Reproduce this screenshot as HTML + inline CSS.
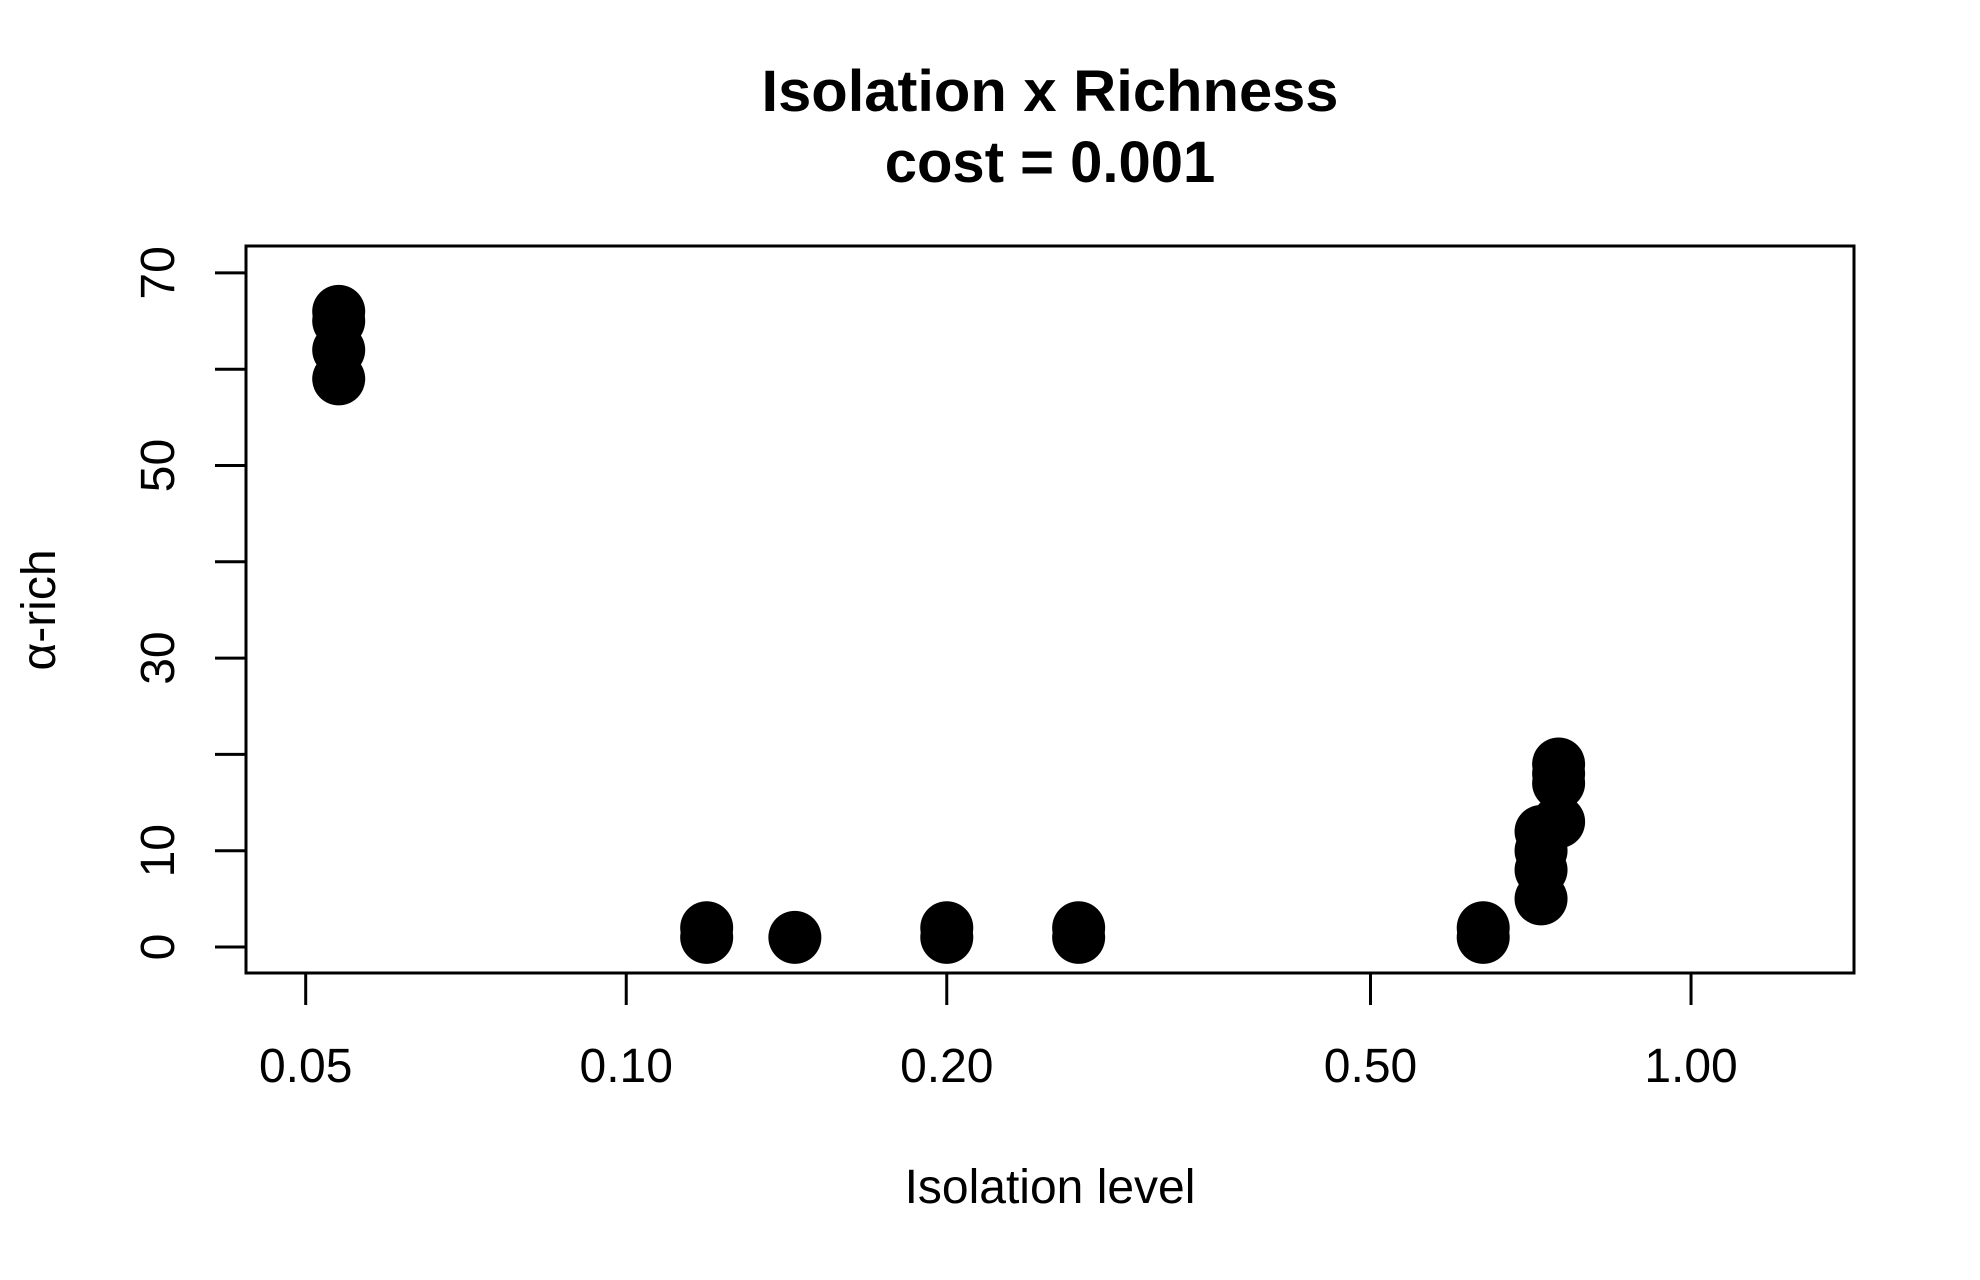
<!DOCTYPE html>
<html><head><meta charset="utf-8"><style>
html,body{margin:0;padding:0;background:#fff;}
svg{display:block;font-family:"Liberation Sans",Arial,sans-serif;}
</style></head><body>
<svg id="chart" width="1980" height="1280" viewBox="0 0 1980 1280" xmlns="http://www.w3.org/2000/svg">
<rect width="1980" height="1280" fill="#fff"/>
<text x="1050" y="111" text-anchor="middle" font-weight="bold" font-size="58" textLength="577" lengthAdjust="spacingAndGlyphs">Isolation x Richness</text>
<text x="1050" y="182" text-anchor="middle" font-weight="bold" font-size="58">cost = 0.001</text>
<rect x="246" y="246" width="1608" height="727" fill="none" stroke="#000" stroke-width="3"/>
<g id="xaxis"></g>
<g id="yaxis"></g>
<g id="points"></g>
<text x="1050" y="1203" text-anchor="middle" font-size="48">Isolation level</text>
<text transform="translate(55,610) rotate(-90)" text-anchor="middle" font-size="48">α-rich</text>
</svg>
<script>
const xTicks = [0.05, 0.10, 0.20, 0.50, 1.00];
const xTickLabels = ["0.05", "0.10", "0.20", "0.50", "1.00"];
const yTicks = [0, 10, 20, 30, 40, 50, 60, 70];
const yTickLabels = ["0", "10", "", "30", "", "50", "", "70"];
const isolation = [0.0537,0.0537,0.0537,0.0537, 0.119,0.119, 0.144, 0.20,0.20, 0.266,0.266, 0.638,0.638, 0.723,0.723,0.723,0.723, 0.751,0.751,0.751,0.751];
const richness  = [66,65,62,59, 2,1, 1, 2,1, 2,1, 2,1, 5,8,10,12, 13,17,18,19];

const NS = "http://www.w3.org/2000/svg";
function X(v){ return 305.7 + 1064.8 * Math.log10(v / 0.05); }
function Y(v){ return 947 - 9.63 * v; }
function mk(tag, attrs){ const e = document.createElementNS(NS, tag); for (const k in attrs) e.setAttribute(k, attrs[k]); return e; }

const xg = document.getElementById("xaxis");
xTicks.forEach((t, i) => {
  const l = mk("line", {x1: X(t), x2: X(t), y1: 973, y2: 1005, stroke: "#000", "stroke-width": 3});
  
  
  xg.appendChild(l);
  const tx = mk("text", {x: X(t), y: 1082, "text-anchor": "middle", "font-size": 48});
  
  
  tx.textContent = xTickLabels[i];
  xg.appendChild(tx);
});

const yg = document.getElementById("yaxis");
yTicks.forEach((t, i) => {
  const l = mk("line", {x1: 215, x2: 246, y1: Y(t), y2: Y(t), stroke: "#000", "stroke-width": 3});
  
  
  yg.appendChild(l);
  if (yTickLabels[i]) {
    const tx = mk("text", {transform: "translate(174," + Y(t) + ") rotate(-90)", "text-anchor": "middle", "font-size": 48});
    
    
    tx.textContent = yTickLabels[i];
    yg.appendChild(tx);
  }
});

const pg = document.getElementById("points");
isolation.forEach((v, i) => {
  const c = mk("circle", {cx: X(v), cy: Y(richness[i]), r: 26.5, fill: "#000"});
  
  
  pg.appendChild(c);
});
</script>
</body></html>
